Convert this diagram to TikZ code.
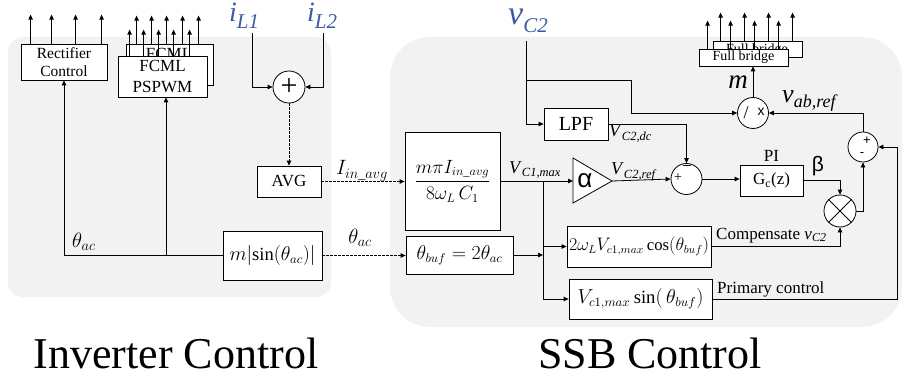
\documentclass[tikz,border=0pt]{standalone}
\usepackage{fontspec}
\usepackage{amsmath}
\setmainfont{Liberation Serif}
\newfontfamily\sfarial{Liberation Sans}
\usetikzlibrary{arrows.meta}
\definecolor{panel}{RGB}{242,242,242}
\definecolor{lblue}{RGB}{59,91,163}
\newcommand\fs[1]{\fontsize{#1}{#1}\selectfont}
\newcommand\VS[5]{{\fs{#3}\textit{#1}}\raisebox{-#5}{\fs{#4}\textit{#2}}}
\begin{document}
\begin{tikzpicture}[x=1pt,y=-1pt,
  blk/.style={draw, fill=white, line width=0.8pt, inner sep=0pt, align=center, font=\fs{16}},
  ln/.style={line width=0.8pt},
  ar/.style={ln, -{Triangle[length=5pt,width=4.5pt]}},
  dar/.style={ar, dash pattern=on 2.5pt off 1.5pt},
  crc/.style={draw, fill=white, circle, line width=0.8pt, inner sep=0pt, minimum size=31pt},
  lab/.style={anchor=base west, inner sep=0pt}]
\useasboundingbox (0,0) rectangle (902,377);
% panels
\fill[panel, rounded corners=15pt] (8,37) rectangle (331,297);
\fill[panel, rounded corners=40pt] (390,37) rectangle (902,327);

% ---------- Inverter control ----------
\node[blk, minimum width=86pt, minimum height=36pt, font=\fontsize{15.5}{18}\selectfont] (rect) at (64,62) {Rectifier\\Control};
\foreach \dx in {10,31,55,81} \draw[ar] ([xshift=\dx pt]rect.north west) -- ++(0,-29);

\node[blk, minimum width=87pt, minimum height=41pt] (fcmlB) at (169.5,64.5) {};
\foreach \dx in {11,26,41,57,73} \draw[ar] ([xshift=\dx pt]fcmlB.north west) -- ++(0,-28);
\node[font=\fs{17}, anchor=base, inner sep=0pt] (fcmlBt) at (169,60) {FCML};
\node[blk, minimum width=89pt, minimum height=41pt, font=\fontsize{17}{21}\selectfont] (fcmlF) at (162.5,76.5) {FCML\\PSPWM};
\foreach \dx in {12,26,41,56,72} \draw[ar] ([xshift=\dx pt]fcmlF.north west) -- ++(0,-26);

\node[crc, minimum size=32pt] (s1) at (289,87) {};
\node[font=\fs{30}, inner sep=0pt] at (s1) {+};
\coordinate (iL1) at (252,33);
\coordinate (iL2) at (323,33);
\draw[ar] (iL1) |- (s1.west);
\draw[ar] (iL2) |- (s1.east);
\node[lab, text=lblue] at (229,22) {\VS{i}{L1}{28}{21}{7pt}};
\node[lab, text=lblue] at (307,22) {\VS{i}{L2}{28}{21}{7pt}};

\node[blk, minimum width=64pt, minimum height=31pt, font=\fs{17}] (avg) at (289,181.5) {AVG};
\draw[dar] (s1.south) -- (avg.north);

\node[blk, minimum width=99pt, minimum height=49pt] (msin) at (272.5,255.5) {\resizebox{86pt}{!}{$m|\mathrm{sin}(\theta_{ac})|$}};
\draw[ar] (msin.west) -| (rect.south);
\coordinate (f1) at ([xshift=3.5pt]fcmlF.south);
\draw[ar] (msin.west -| f1) -- (f1);
\node[lab, font=\fs{20}] at (72,247) {$\theta_{ac}$};

% ---------- SSB control ----------
\node[blk, minimum width=95pt, minimum height=98pt] (frac) at (452.5,181) {\resizebox{76pt}{!}{$\dfrac{m\pi I_{in\_avg}}{8\omega_L\,C_1}$}};
\node[blk, minimum width=107pt, minimum height=38pt] (thb) at (459.5,255) {\resizebox{86pt}{!}{$\theta_{buf}=2\theta_{ac}$}};
\draw[dar] (avg.east) -- (avg.east -| frac.west);
\node[anchor=base, inner sep=0pt, font=\fs{20}] at (362,175) {$I_{in\_avg}$};
\draw[dar] (msin.east) -- (msin.east -| thb.west);
\node[anchor=base, inner sep=0pt, font=\fs{20}] at (360,243) {$\theta_{ac}$};

\node[blk, minimum width=144pt, minimum height=41pt] (cosb) at (639,246.5) {\resizebox{140pt}{!}{$2\omega_L V_{c1,max}\cos(\theta_{buf})$}};
\node[blk, minimum width=143pt, minimum height=40pt] (sinb) at (640.5,299) {\resizebox{126pt}{!}{$V_{c1,max}\sin(\,\theta_{buf})$}};

\draw[ln, fill=white] (573,158) -- (612,181) -- (573,203) -- cycle;
\coordinate (triL) at (573,181);
\coordinate (triR) at (612,181);
\node[font=\sfarial\fs{26}, inner sep=0pt] at (585,181) {α};

\draw[ar] (frac.east) -- (triL);
\coordinate (j1) at (543,181);
\draw[ar] (j1) |- (sinb.west);
\draw[ar] (j1 |- cosb.west) -- (cosb.west);
\draw[ar] (thb.east) -- (j1 |- thb.east);
\node[lab] at (509,173) {\VS{V}{C1,max}{18}{12.5}{3pt}};

\node[crc] (s2) at (686.5,179) {};
\node[font=\fs{14}, inner sep=0pt] at (678,178) {+};
\node[font=\sfarial\fs{14}, inner sep=0pt] at (687,167) {–};
\draw[ar] (triR) -- (s2.west);
\node[lab] at (611,175) {\VS{V}{C2,ref}{18}{12.5}{3pt}};

\node[blk, minimum width=64pt, minimum height=32pt, font=\fs{20}] (lpf) at (576,124) {LPF};
\coordinate (vc2) at (526,41);
\coordinate (j2) at (526,80);
\draw[ar] (vc2) |- (lpf.west);
\node[lab, text=lblue] at (508,25) {\VS{v}{C2}{34}{21}{8pt}};
\draw[ar] (lpf.east) -| (s2.north);
\node[lab] at (609,137) {\VS{V}{C2,dc}{18}{12.5}{3pt}};

\node[blk, minimum width=63pt, minimum height=31pt, font=\fs{17}] (pi) at (771.5,180.5) {G\textsubscript{c}(z)};
\node[font=\fs{17}, anchor=south] at (pi.north) {PI};
\draw[ar] (s2.east) -- (s2.east -| pi.west);
\node[font=\sfarial\fs{21}, inner sep=0pt] at (818,166) {β};

\node[crc, minimum size=32pt] (mu) at (840,211) {};
\draw[ln] (mu.north west) -- (mu.south east);
\draw[ln] (mu.north east) -- (mu.south west);
\draw[ar] (pi.east) -| (mu.north);
\draw[ar] (cosb.east) -| (mu.south);
\node[lab, font=\fs{17}] at (716,239) {Compensate \textit{v}\raisebox{-2pt}{\fs{12}\textit{C2}}};

\node[crc, minimum size=30pt] (s3) at (863,147) {};
\node[font=\sfarial\fs{13}, inner sep=0pt] at (867,141) {+};
\node[font=\sfarial\fs{13}, inner sep=0pt] at (862,155) {-};
\draw[ar] (mu.east) -| (s3.south);
\draw[ar] (sinb.east) -- ++(185,0) |- (s3.east);
\node[lab, font=\fs{17}] at (717,293) {Primary control};

\node[crc] (dv) at (753,113) {};
\node[font=\fs{18}, inner sep=0pt] at (746,113) {/};
\node[font=\sfarial\fs{14}, inner sep=0pt] at (761,112) {x};
\draw[ar] (s3.north) |- (dv.east);
\node[lab] at (782,103) {\VS{v}{ab,ref}{26}{18}{5pt}};
\draw[ar] (j2) -- (631,80) |- (dv.west);

\node[blk, minimum width=89pt, minimum height=16pt] (fbB) at (757.5,49) {};
\foreach \dx in {8,32,56,80} \draw[ar] ([xshift=\dx pt]fbB.north west) -- ++(0,-28);
\node[font=\fs{14}, anchor=base, inner sep=0pt] at (757,54) {Full bridge};
\node[blk, minimum width=89pt, minimum height=17pt, font=\fs{14}] (fbF) at (743.5,57.5) {Full bridge};
\foreach \dx in {9,32,56,80} \draw[ar] ([xshift=\dx pt]fbF.north west) -- ++(0,-28);
\draw[ar] (dv.north) -- (dv.north |- fbF.south);
\node[font=\fs{27}, anchor=base, inner sep=0pt] at (738,89) {\textit{m}};

% titles
\node[font=\fs{44}, anchor=base, inner sep=0pt] at (176,368) {Inverter Control};
\node[font=\fs{44}, anchor=base, inner sep=0pt] at (650,368) {SSB Control};
\end{tikzpicture}
\end{document}
